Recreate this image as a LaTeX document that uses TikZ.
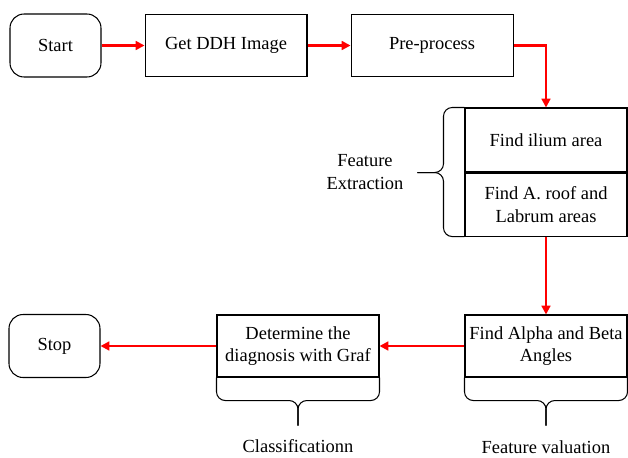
\documentclass[tikz,border=0pt]{standalone}
\usepackage{fontspec}
\setmainfont{Liberation Serif}
\usetikzlibrary{positioning, arrows.meta, calc}

\begin{document}
\begin{tikzpicture}[x=0.02cm, y=-0.02cm, >={Triangle[length=5pt, width=5pt]}, node distance=0.86cm,
  font=\fontsize{10.5}{13}\selectfont,
  term/.style={draw, line width=0.6pt, rounded corners=8pt, minimum width=1.82cm, minimum height=1.26cm},
  proc/.style={draw, line width=0.6pt, align=center, minimum width=3.24cm, minimum height=1.24cm, inner sep=2pt},
  flow/.style={->, red, line width=1.2pt},
  grp/.style={draw, line width=0.6pt, rounded corners=5pt}]
\useasboundingbox (0,0) rectangle (628,457);
% Etapas
\node[term] (start) at (55.5,45.5) {Start};
\node[proc, right=of start] (getimg) {Get DDH Image};
\node[proc, right=of getimg] (prep) {Pre-process};
\node[proc, minimum height=1.28cm] (ilium) at (546,140) {Find ilium area};
\node[proc, minimum height=1.26cm, below=0pt of ilium] (roof) {Find A. roof and\\Labrum areas};
\node[proc] (angles) at (546,346) {Find Alpha and Beta\\Angles};
\node[proc, left=1.7cm of angles] (graf) {Determine the\\diagnosis with Graf};
\node[term, left=2.32cm of graf] (stop) {Stop};

% Grupos
\coordinate (fextTip) at ($(ilium.south west)+(-47,0)$);
\coordinate (classTip) at ($(graf.south)+(0,48)$);
\coordinate (fvalTip) at ($(angles.south)+(0,48)$);
\draw[grp] (ilium.north west) -| ($(ilium.south west)+(-21,0)$) -- (fextTip);
\draw[grp] (roof.south west) -| ($(ilium.south west)+(-21,0)$) -- (fextTip);
\draw[grp] (graf.south west) |- ($(graf.south)+(0,23)$) -- (classTip);
\draw[grp] (graf.south east) |- ($(graf.south)+(0,23)$) -- (classTip);
\draw[grp] (angles.south west) |- ($(angles.south)+(0,23)$) -- (fvalTip);
\draw[grp] (angles.south east) |- ($(angles.south)+(0,23)$) -- (fvalTip);
\node[align=center] (fext) at (365,172) {Feature\\Extraction};
\node (classif) at (298,446) {Classificationn};
\node (fval) at (546,447) {Feature valuation};

% Flujo
\draw[flow] (start) -- (getimg);
\draw[flow] (getimg) -- (prep);
\draw[flow] (prep.east) -| (ilium.north);
\draw[flow] (roof) -- (angles);
\draw[flow] (angles) -- (graf);
\draw[flow] (graf) -- (stop);
\end{tikzpicture}
\end{document}
